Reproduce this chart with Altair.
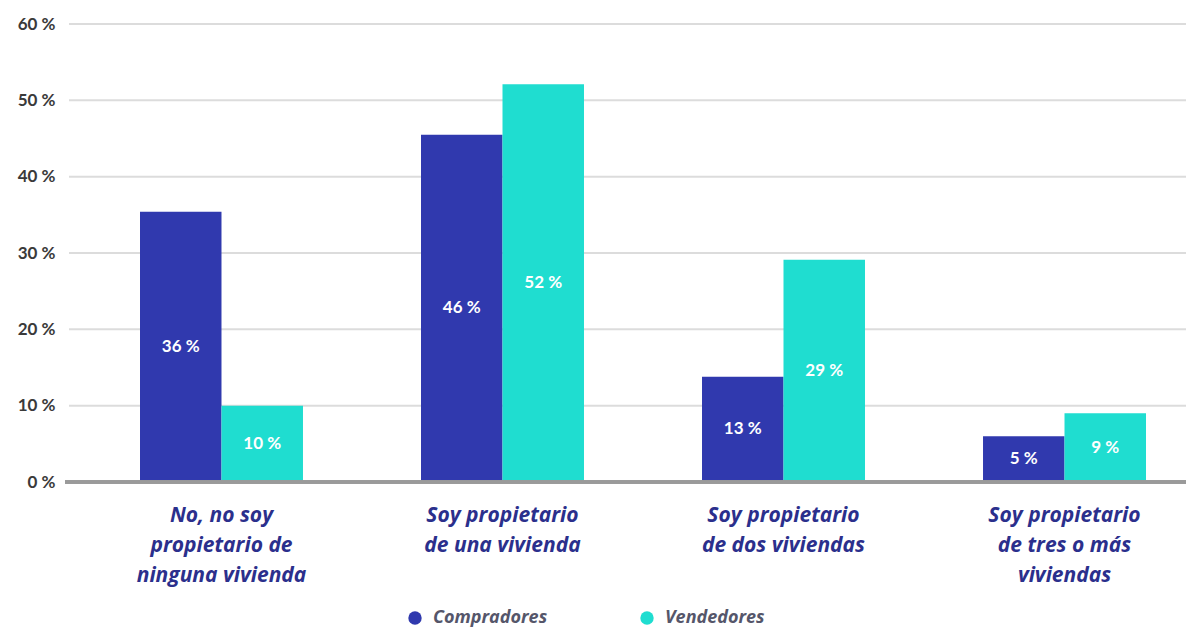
import altair as alt
import pandas as pd

categories = [
    "No, no soy|propietario de|ninguna vivienda",
    "Soy propietario|de una vivienda",
    "Soy propietario|de dos viviendas",
    "Soy propietario|de tres o más|viviendas",
]
series = ["Compradores", "Vendedores"]
compradores = [35.4, 45.5, 13.8, 6.0]
vendedores = [10.0, 52.1, 29.1, 9.0]
labels_compradores = ["36 %", "46 %", "13 %", "5 %"]
labels_vendedores = ["10 %", "52 %", "29 %", "9 %"]
colors = ["#3039AE", "#1FDDD0"]
y_ticks = [0, 10, 20, 30, 40, 50, 60]

rows = []
for i, c in enumerate(categories):
    rows.append({"cat": c, "serie": series[0], "value": compradores[i], "label": labels_compradores[i]})
    rows.append({"cat": c, "serie": series[1], "value": vendedores[i], "label": labels_vendedores[i]})
df = pd.DataFrame(rows)
grid_df = pd.DataFrame({"value": y_ticks[1:]})

W, H = 1117, 458

y_axis = alt.Axis(
    values=y_ticks,
    labelExpr="datum.value + ' %'",
    labelFont="Lato",
    labelFontSize=17,
    labelFontWeight="bold",
    labelColor="#3a3a3a",
    labelPadding=14,
    ticks=False,
    domain=False,
    grid=False,
)
y_scale = alt.Scale(domain=[0, 60], nice=False)

grid = alt.Chart(grid_df).mark_rule(color="#dcdcdc", strokeWidth=2).encode(
    y=alt.Y("value:Q", scale=y_scale, title=None, axis=y_axis),
    x=alt.value(0),
    x2=alt.value(W),
)

x_enc = alt.X(
    "cat:N",
    sort=categories,
    title=None,
    scale=alt.Scale(range=[71, 1077], paddingInner=0.42, paddingOuter=0),
    axis=alt.Axis(
        labelAngle=0,
        labelExpr="split(datum.label, '|')",
        labelFont="Open Sans",
        labelFontSize=21,
        labelFontWeight="bold",
        labelFontStyle="italic",
        labelColor="#2B2F8C",
        labelLineHeight=30,
        labelPadding=22,
        labelBaseline="top",
        ticks=False,
        domain=False,
        grid=False,
    ),
)
xoff = alt.XOffset("serie:N", sort=series)

bars = alt.Chart(df).mark_bar().encode(
    x=x_enc,
    xOffset=xoff,
    y=alt.Y("value:Q", title=None, scale=y_scale),
    color=alt.Color(
        "serie:N",
        sort=series,
        scale=alt.Scale(domain=series, range=colors),
        legend=alt.Legend(
            title=None,
            orient="none",
            direction="horizontal",
            legendX=337,
            legendY=585,
            symbolType="circle",
            symbolSize=180,
            symbolStrokeWidth=0,
            labelFont="Open Sans",
            labelFontSize=18,
            labelFontWeight="bold",
            labelFontStyle="italic",
            labelColor="#55566a",
            labelOffset=9,
            columnPadding=90,
        ),
    ),
)

baseline = alt.Chart(grid_df).mark_rule(color="#9a9a9a", strokeWidth=3).encode(
    y=alt.value(H),
    x=alt.value(-4),
    x2=alt.value(W),
)

text = alt.Chart(df).transform_calculate(mid="datum.value / 2").mark_text(
    font="Lato", fontSize=17, fontWeight="bold", color="white", baseline="middle"
).encode(
    x=alt.X("cat:N", sort=categories, title=None),
    xOffset=xoff,
    y=alt.Y("mid:Q", title=None),
    text="label:N",
)

chart = alt.layer(grid, bars, baseline, text).properties(
    width=W,
    height=H,
    background="white",
    autosize=alt.AutoSizeParams(type="none"),
    padding={"left": 69, "top": 24, "right": 0, "bottom": 150},
).configure_view(stroke=None)

chart.save("out.html", embed_options={"renderer": "svg", "actions": False})
